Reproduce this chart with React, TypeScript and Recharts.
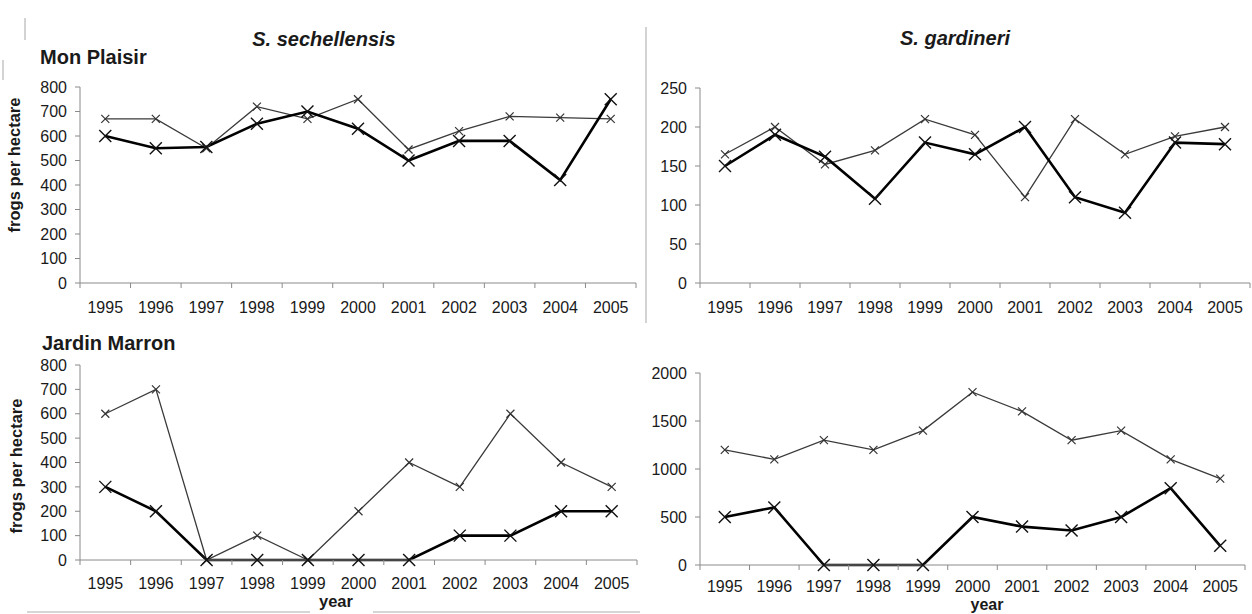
import React from 'react';
import { LineChart, Line, XAxis, YAxis } from 'recharts';

const FONT = '"Liberation Sans", Arial, sans-serif';
const AXIS = '#8a8a8a';
const BORDER = '#a8a8a8';
const INK = '#1a1a1a';

const years = ['1995', '1996', '1997', '1998', '1999', '2000', '2001', '2002', '2003', '2004', '2005'];

// Mon Plaisir, S. sechellensis
const mpSechThin = [670, 670, 550, 720, 670, 750, 545, 620, 680, 675, 670];
const mpSechThick = [600, 550, 555, 650, 700, 630, 500, 580, 580, 420, 750];
// Mon Plaisir, S. gardineri
const mpGardThin = [165, 200, 152, 170, 210, 190, 110, 210, 165, 188, 200];
const mpGardThick = [150, 190, 162, 108, 180, 165, 200, 110, 90, 180, 178];
// Jardin Marron, S. sechellensis
const jmSechThin = [600, 700, 0, 100, 0, 200, 400, 300, 600, 400, 300];
const jmSechThick = [300, 200, 0, 0, 0, 0, 0, 100, 100, 200, 200];
// Jardin Marron, S. gardineri
const jmGardThin = [1200, 1100, 1300, 1200, 1400, 1800, 1600, 1300, 1400, 1100, 900];
const jmGardThick = [500, 600, 0, 0, 0, 500, 400, 360, 500, 800, 200];

const sechTicks = [0, 100, 200, 300, 400, 500, 600, 700, 800];
const mpGardTicks = [0, 50, 100, 150, 200, 250];
const jmGardTicks = [0, 500, 1000, 1500, 2000];

const build = (thin: number[], thick: number[]) =>
  years.map((year, i) => ({ year, thin: thin[i], thick: thick[i] }));

const xDot = (r: number, color: string, w: number) => (p: any) => {
  if (p.cx == null || p.cy == null) return <g key={`e${p.index}`} />;
  const { cx, cy } = p;
  return (
    <path
      key={`d${p.index}`}
      d={`M${cx - r},${cy - r}L${cx + r},${cy + r}M${cx - r},${cy + r}L${cx + r},${cy - r}`}
      stroke={color}
      strokeWidth={w}
      fill="none"
    />
  );
};

const makeXTick = (step: number, axisY: number, labelOffset: number) => (props: any) => {
  const { x, payload, index } = props;
  const last = index === years.length - 1;
  return (
    <g key={`t${index}`}>
      <line x1={x - step / 2} y1={axisY} x2={x - step / 2} y2={axisY + 5} stroke={AXIS} />
      {last && <line x1={x + step / 2} y1={axisY} x2={x + step / 2} y2={axisY + 5} stroke={AXIS} />}
      <text x={x} y={axisY + labelOffset} textAnchor="middle" fontSize={16} fontFamily={FONT} fill={INK}>
        {payload.value}
      </text>
    </g>
  );
};

interface PanelProps {
  left: number;
  top: number;
  width: number;
  height: number;
  plotLeft: number;
  plotRight: number;
  plotTop: number;
  plotBottom: number;
  labelOffset?: number;
  data: Array<{ year: string; thin: number; thick: number }>;
  domain: [number, number];
  ticks: number[];
}

const Panel: React.FC<PanelProps> = ({ left, top, width, height, plotLeft, plotRight, plotTop, plotBottom, labelOffset = 30, data, domain, ticks }) => {
  const step = (plotRight - plotLeft) / years.length;
  return (
    <div style={{ position: 'absolute', left, top, width, height }}>
      <LineChart
        width={width}
        height={height}
        data={data}
        margin={{ top: plotTop, right: width - plotRight, bottom: 0, left: 0 }}
      >
        <XAxis
          dataKey="year"
          scale="band"
          interval={0}
          height={height - plotBottom}
          tickLine={false}
          axisLine={{ stroke: AXIS }}
          tick={makeXTick(step, plotBottom, labelOffset)}
        />
        <XAxis xAxisId="top" orientation="top" dataKey="year" scale="band" height={0} tick={false} tickLine={false} axisLine={{ stroke: BORDER }} />
        <YAxis
          domain={domain}
          ticks={ticks}
          width={plotLeft}
          interval={0}
          tickSize={5}
          tickMargin={8}
          tickLine={{ stroke: AXIS }}
          axisLine={{ stroke: AXIS }}
          tick={{ fontSize: 16, fontFamily: FONT, fill: INK }}
        />
        <YAxis yAxisId="right" orientation="right" domain={domain} width={0} tick={false} tickLine={false} axisLine={{ stroke: BORDER }} />
        <Line
          dataKey="thin"
          type="linear"
          stroke="#3a3a3a"
          strokeWidth={1.3}
          dot={xDot(4, '#333', 1.2)}
          activeDot={false}
          isAnimationActive={false}
        />
        <Line
          dataKey="thick"
          type="linear"
          stroke="#000"
          strokeWidth={2.6}
          dot={xDot(6, '#111', 1.4)}
          activeDot={false}
          isAnimationActive={false}
        />
      </LineChart>
    </div>
  );
};

export default function App() {
  const bold = { fontFamily: FONT, fontWeight: 700, fill: INK } as const;
  return (
    <div style={{ position: 'absolute', left: 0, top: 0, width: 1252, height: 614, background: '#fff', overflow: 'hidden' }}>
      <Panel left={0} top={0} width={640} height={320} plotLeft={80} plotRight={636} plotTop={87} plotBottom={283}
        data={build(mpSechThin, mpSechThick)} domain={[0, 800]} ticks={sechTicks} />
      <Panel left={645} top={0} width={607} height={320} plotLeft={55} plotRight={605} plotTop={88} plotBottom={283}
        data={build(mpGardThin, mpGardThick)} domain={[0, 250]} ticks={mpGardTicks} />
      <Panel left={0} top={320} width={640} height={294} plotLeft={80} plotRight={637} plotTop={45} plotBottom={240}
        labelOffset={29} data={build(jmSechThin, jmSechThick)} domain={[0, 800]} ticks={sechTicks} />
      <Panel left={645} top={320} width={607} height={294} plotLeft={55} plotRight={600} plotTop={53} plotBottom={245}
        labelOffset={27} data={build(jmGardThin, jmGardThick)} domain={[0, 2000]} ticks={jmGardTicks} />

      <svg width={1252} height={614} style={{ position: 'absolute', left: 0, top: 0, pointerEvents: 'none' }}>
        <line x1={646} y1={27} x2={646} y2={323} stroke="#c4c4c4" strokeWidth={1.5} />
        <line x1={25} y1={18} x2={25} y2={40} stroke="#c4c4c4" strokeWidth={1.5} />
        <line x1={3} y1={60} x2={3} y2={80} stroke="#c4c4c4" strokeWidth={1.5} />
        <line x1={27} y1={612} x2={310} y2={612} stroke="#c8c8c8" strokeWidth={1.5} />
        <line x1={373} y1={612} x2={640} y2={612} stroke="#c8c8c8" strokeWidth={1.5} />

        <text x={324} y={46} textAnchor="middle" fontSize={20} fontStyle="italic" {...bold}>S. sechellensis</text>
        <text x={955} y={45} textAnchor="middle" fontSize={20} fontStyle="italic" {...bold}>S. gardineri</text>
        <text x={40} y={64} fontSize={20} {...bold}>Mon Plaisir</text>
        <text x={42} y={350} fontSize={20} {...bold}>Jardin Marron</text>

        <text transform="translate(20,165) rotate(-90)" textAnchor="middle" fontSize={16.5} {...bold}>frogs per hectare</text>
        <text transform="translate(22,466) rotate(-90)" textAnchor="middle" fontSize={16.5} {...bold}>frogs per hectare</text>

        <text x={336} y={607} textAnchor="middle" fontSize={16.5} {...bold}>year</text>
        <text x={987} y={610} textAnchor="middle" fontSize={16} {...bold}>year</text>
      </svg>
    </div>
  );
}
